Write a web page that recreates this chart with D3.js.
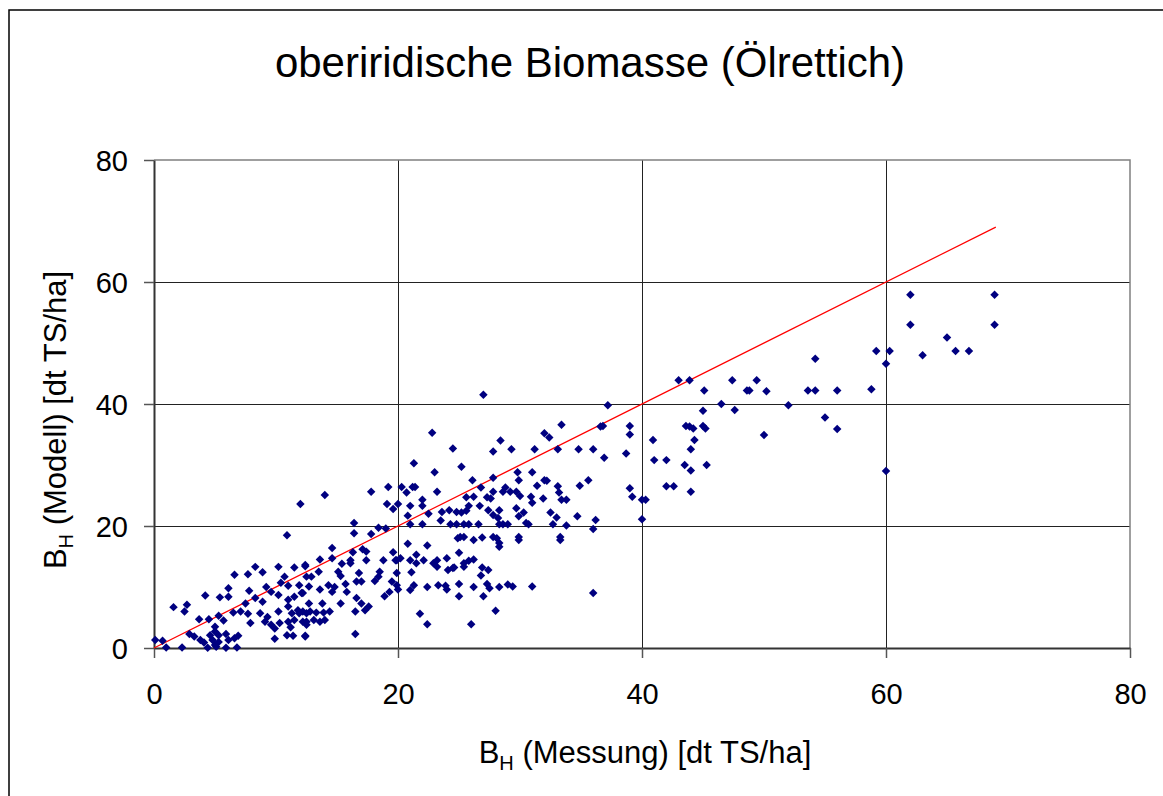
<!DOCTYPE html>
<html>
<head>
<meta charset="utf-8">
<script src="https://cdn.jsdelivr.net/npm/d3@7"></script>
<style>
  body { margin: 0; background: #fff; }
  svg { display: block; font-family: "Liberation Sans", Arial, sans-serif; }
</style>
</head>
<body>
<svg id="chart" width="1163" height="796"></svg>
<script>
// measured biomass (x) and modelled biomass (y), dt TS/ha
const messung = [
  8.3,10.2,11.5,12.4,7.7,6.6,8.9,10.7,10.4,6.1,9.2,11.0,11.9,4.2,5.4,6.1,7.8,8.3,8.9,9.6,10.2,11.0,11.5,12.2,
  1.6,2.7,2.5,7.5,6.5,7.1,7.7,8.7,9.3,10.2,11.0,11.3,11.9,5.3,3.7,4.5,5.7,7.9,9.1,9.6,10.3,11.0,11.5,12.2,
  9.9,5.0,5.0,2.9,3.3,4.6,5.3,5.9,6.9,3.8,4.1,4.8,5.3,6.1,6.6,10.9,11.4,12.4,9.9,0.1,0.7,1.0,2.3,4.4,5.1,5.9,
  6.8,5.0,11.8,12.5,12.5,11.2,
  12.4,13.5,12.5,12.9,12.7,12.1,14.3,13.6,14.6,14.8,15.7,15.8,15.1,15.3,16.1,16.8,16.6,17.0,18.5,18.4,18.1,
  19.5,19.9,19.9,20.0,19.3,18.9,21.1,21.3,21.0,22.4,23.3,23.9,24.0,22.9,23.2,24.1,24.5,21.5,17.4,19.9,12.7,
  13.8,15.3,16.6,17.0,17.6,17.3,16.5,12.2,12.8,13.3,13.9,14.4,12.5,13.1,13.6,14.0,12.4,16.5,21.8,22.4,
  28.3,29.9,33.3,25.0,25.4,25.8,26.2,25.4,24.6,26.9,27.4,26.8,25.0,26.2,27.3,27.5,28.3,29.0,29.4,31.0,36.0,
  25.0,27.0,28.0,26.0,
  12.0,10.9,
  24.5,21.3,23.0,14.0,17.8,19.2,20.3,20.7,21.2,21.4,23.2,19.1,19.6,20.0,21.0,22.0,22.0,22.5,23.6,24.2,24.8,
  20.8,23.5,16.4,21.0,22.0,24.3,18.4,19.0,16.4,17.8,24.9,14.6,16.3,17.1,17.4,19.6,20.8,22.4,21.5,13.6,14.6,
  16.1,18.8,19.8,20.2,21.0,22.1,23.2,24.0,15.4,22.8,
  27.0,37.2,33.4,36.6,36.8,32.0,32.4,28.4,27.8,29.3,31.2,33.1,34.8,36.0,36.9,25.2,29.8,31.0,27.8,29.9,26.1,
  32.0,32.2,35.6,26.8,31.4,33.1,34.9,28.8,27.8,28.6,29.2,29.7,30.0,33.2,25.6,26.2,27.3,27.6,30.9,31.9,31.0,
  33.4,33.8,25.8,26.7,29.7,25.2,25.6,27.4,28.3,30.3,29.9,27.8,28.2,32.5,33.0,34.7,36.2,30.5,30.7,32.7,33.8,
  36.0,24.8,25.4,25.8,26.6,28.3,28.6,29.0,25.1,25.4,26.2,26.9,27.8,28.1,29.9,33.3,28.3,
  43.0,43.9,47.4,49.4,45.1,48.6,46.5,47.6,45.0,39.0,39.0,43.6,43.9,44.2,45.0,45.2,40.9,44.3,44.0,38.7,41.0,
  42.0,43.5,45.3,44.0,
  39.0,39.2,40.0,40.3,42.0,42.6,44.0,40.0,
  62.0,68.9,62.0,68.9,65.0,59.2,60.3,60.0,63.0,65.7,66.8,54.2,48.8,50.2,53.6,54.2,56.0,58.8,52.0,50.0,55.0,
  56.0,60.0
];
const modell = [
  13.3,13.3,13.2,13.6,12.1,12.0,12.4,11.7,10.7,9.8,10.0,10.2,10.3,8.6,8.3,8.4,9.4,8.2,7.6,9.2,8.7,7.9,8.4,9.0,
  6.7,7.1,6.0,7.3,5.8,6.0,5.6,5.7,5.1,6.0,6.8,5.7,5.7,5.3,4.7,4.7,4.5,4.1,4.3,3.8,4.1,4.3,4.6,4.3,
  3.2,3.5,2.7,2.3,1.9,2.1,2.1,2.3,2.0,1.3,0.9,1.3,1.0,1.3,1.6,2.1,2.0,2.0,1.5,1.3,1.2,0.1,0.1,0.05,0.2,0.05,
  0.1,0.5,6.2,5.7,3.8,3.4,
  13.4,12.5,11.7,11.7,10.1,9.0,10.3,9.6,9.2,10.0,10.5,9.2,12.5,11.8,13.9,12.3,10.9,10.9,12.5,11.7,11.0,
  10.9,12.3,10.3,9.6,9.2,8.5,12.4,10.3,9.5,10.0,10.3,10.2,9.6,13.9,13.3,12.8,13.1,13.9,14.4,14.4,7.3,
  7.3,7.3,8.2,7.3,6.8,6.2,6.0,6.0,6.0,5.8,5.8,6.0,4.3,4.6,4.3,4.6,1.9,2.3,5.6,3.9,
  16.6,17.7,17.7,15.6,13.9,14.3,14.5,13.3,13.2,13.2,12.8,11.9,10.5,10.0,10.5,9.8,10.0,10.4,10.1,10.1,9.0,
  8.5,8.5,6.1,3.9,
  23.6,18.5,
  32.7,30.3,28.8,25.1,25.6,26.4,26.4,25.5,26.4,26.4,25.6,23.6,22.8,23.6,23.3,24.3,23.3,22.0,22.3,22.6,22.3,
  21.7,20.9,20.5,20.3,20.3,20.3,19.7,19.6,18.8,18.7,18.0,16.4,15.7,16.2,15.8,15.7,17.1,16.8,15.3,14.5,14.7,
  14.4,14.4,14.4,14.7,14.4,14.4,14.4,14.7,13.8,35.3,
  41.5,39.8,36.6,36.3,36.4,35.2,34.5,34.0,32.2,32.6,32.6,32.6,32.6,32.6,31.2,29.7,28.8,28.8,27.9,27.5,27.5,
  27.5,27.4,27.5,26.3,26.6,26.5,26.6,26.3,25.6,25.6,25.6,25.6,24.9,25.5,24.7,24.8,24.7,24.5,24.8,24.5,23.8,
  24.3,24.3,23.3,23.3,22.9,22.2,22.5,22.6,22.6,22.2,21.6,21.8,21.3,22.2,21.4,21.6,21.0,20.5,20.3,20.3,20.1,
  19.5,20.3,20.3,20.3,20.3,20.3,20.3,20.3,18.2,18.2,17.7,18.1,18.2,18.0,18.2,18.2,17.2,
  43.9,43.9,43.9,43.9,42.2,42.2,40.0,39.0,38.9,36.4,35.0,36.4,36.3,36.0,36.4,36.0,34.1,34.1,32.6,31.9,30.8,
  30.8,30.0,30.0,29.1,
  26.2,24.8,24.3,24.3,26.5,26.5,25.6,21.1,
  57.9,57.9,53.0,53.0,50.9,48.7,48.7,46.6,48.0,48.7,48.7,47.4,42.2,42.1,42.2,42.2,42.2,42.4,39.8,34.9,37.8,
  35.9,29.0
];
const tickValues = [0, 20, 40, 60, 80];
const identityLine = [0, 69];
const chartTitle = "oberiridische Biomasse (Ölrettich)";

const points = messung.map((x, i) => ({ x: x, y: modell[i] }));

const margin = { top: 160, right: 33, bottom: 148, left: 154 };
const width = 1163, height = 796;
const svg = d3.select("#chart");

// outer chart frame
svg.append("rect")
  .attr("x", 9).attr("y", 10)
  .attr("width", 1200).attr("height", 900)
  .attr("fill", "none").attr("stroke", "#000").attr("stroke-width", 1.5);

const x = d3.scaleLinear().domain([0, 80]).range([margin.left, width - margin.right]);
const y = d3.scaleLinear().domain([0, 80]).range([height - margin.bottom, margin.top]);

// grid
svg.append("g")
  .attr("transform", `translate(0,${y(0)})`)
  .call(d3.axisBottom(x).tickValues(tickValues.slice(1, -1)).tickSize(-(y(0) - y(80))).tickFormat(""))
  .call(g => g.select(".domain").remove())
  .call(g => g.selectAll("line").attr("stroke", "#222").attr("stroke-width", 1));
svg.append("g")
  .attr("transform", `translate(${x(0)},0)`)
  .call(d3.axisLeft(y).tickValues(tickValues.slice(1, -1)).tickSize(-(x(80) - x(0))).tickFormat(""))
  .call(g => g.select(".domain").remove())
  .call(g => g.selectAll("line").attr("stroke", "#222").attr("stroke-width", 1));

// plot border (top/right)
svg.append("path")
  .attr("d", `M${x(0)},${y(80)}H${x(80)}V${y(0)}`)
  .attr("fill", "none").attr("stroke", "#808080").attr("stroke-width", 1.5);

// axes
const xAxis = svg.append("g")
  .attr("transform", `translate(0,${y(0)})`)
  .call(d3.axisBottom(x).tickValues(tickValues).tickSize(10).tickSizeOuter(0).tickPadding(25));
const yAxis = svg.append("g")
  .attr("transform", `translate(${x(0)},0)`)
  .call(d3.axisLeft(y).tickValues(tickValues).tickSize(10).tickSizeOuter(0).tickPadding(16));

[xAxis, yAxis].forEach(g => {
  g.select(".domain").attr("stroke", "#333").attr("stroke-width", 2);
  g.selectAll(".tick line").attr("stroke", "#555").attr("stroke-width", 1.5);
  g.selectAll(".tick text")
    .attr("fill", "#000")
    .style("font-family", "'Liberation Sans', Arial, sans-serif")
    .style("font-size", "29px");
});
yAxis.selectAll(".tick text").attr("dy", "0.35em");

// 1:1 line
svg.append("line")
  .attr("x1", x(identityLine[0])).attr("y1", y(identityLine[0]))
  .attr("x2", x(identityLine[1])).attr("y2", y(identityLine[1]))
  .attr("stroke", "#ff0000").attr("stroke-width", 1.2);

// points
const diamond = d3.symbol().type(d3.symbolSquare).size(36);
svg.append("g")
  .selectAll("path")
  .data(points)
  .join("path")
  .attr("d", diamond)
  .attr("transform", d => `translate(${x(d.x)},${y(d.y)}) rotate(45)`)
  .attr("fill", "#000080");

// title
svg.append("text")
  .attr("x", 590).attr("y", 77)
  .attr("text-anchor", "middle")
  .style("font-size", "42px")
  .text(chartTitle);

// x axis title
const xt = svg.append("text")
  .attr("x", 645).attr("y", 763)
  .attr("text-anchor", "middle")
  .style("font-size", "31px");
xt.append("tspan").text("B");
xt.append("tspan").attr("dy", 7).style("font-size", "20px").text("H");
xt.append("tspan").attr("dy", -7).text(" (Messung) [dt TS/ha]");

// y axis title
const yt = svg.append("text")
  .attr("transform", "translate(66,420) rotate(-90)")
  .attr("text-anchor", "middle")
  .style("font-size", "31px");
yt.append("tspan").text("B");
yt.append("tspan").attr("dy", 7).style("font-size", "20px").text("H");
yt.append("tspan").attr("dy", -7).text(" (Modell) [dt TS/ha]");
</script>
</body>
</html>
